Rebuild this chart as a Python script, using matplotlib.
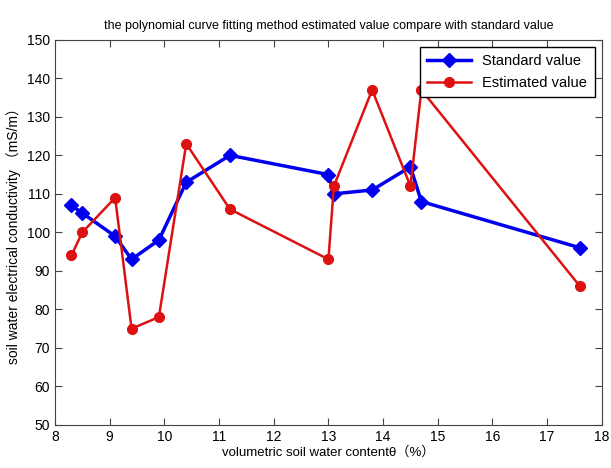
import matplotlib
matplotlib.use("Agg")
import matplotlib.pyplot as plt

plt.rcParams['font.family'] = ['Liberation Sans', 'Noto Sans CJK SC', 'DejaVu Sans']

x_std = [8.3, 8.5, 9.1, 9.4, 9.9, 10.4, 11.2, 13.0, 13.1, 13.8, 14.5, 14.7, 17.6]
y_std = [107, 105, 99, 93, 98, 113, 120, 115, 110, 111, 117, 108, 96]
x_est = [8.3, 8.5, 9.1, 9.4, 9.9, 10.4, 11.2, 13.0, 13.1, 13.8, 14.5, 14.7, 17.6]
y_est = [94, 100, 109, 75, 78, 123, 106, 93, 112, 137, 112, 137, 86]
x_ticks = list(range(8, 19))
y_ticks = list(range(50, 151, 10))

fig = plt.figure(figsize=(6.11, 4.68), dpi=100)
ax = fig.add_axes([0.090, 0.092, 0.895, 0.823])

ax.plot(x_std, y_std, color='#0000ee', lw=2.5, marker='D', ms=7, label='Standard value')
ax.plot(x_est, y_est, color='#dd1111', lw=1.8, marker='o', ms=7, label='Estimated value')

ax.set_xlim(8, 18)
ax.set_ylim(50, 150)
ax.set_xticks(x_ticks)
ax.set_yticks(y_ticks)
ax.tick_params(direction='in', top=True, right=True, labelsize=10, length=5, color='#444444')
for s in ax.spines.values():
    s.set_color('#444444')

ax.set_title('the polynomial curve fitting method estimated value compare with standard value', fontsize=9, pad=8)
ax.set_xlabel('volumetric soil water contentθ（%）', fontsize=9.5, labelpad=2)
ax.set_ylabel('soil water electrical conductivity （mS/m）', fontsize=10, labelpad=4)

leg = ax.legend(loc='upper right', fontsize=10.5, fancybox=False, edgecolor='black',
                framealpha=1, handlelength=3, borderpad=0.5)
leg.get_frame().set_linewidth(1.0)

fig.savefig('out.png', dpi=100)
